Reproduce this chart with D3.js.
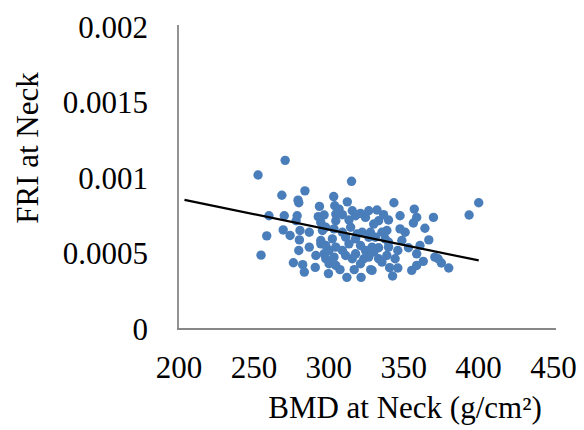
<!DOCTYPE html>
<html><head><meta charset="utf-8">
<script src="https://cdn.jsdelivr.net/npm/d3@7"></script>
<style>body{margin:0;background:#fff}svg{display:block}</style>
</head><body>
<svg id="c" width="584" height="430"></svg>
<script>
// BMD at Neck (g/cm²)
const bmd = [271.2,253.1,315.5,284.4,269.0,303.6,279.8,280.3,312.7,343.8,400.4,294.1,304.3,357.4,305.0,309.4,316.0,321.5,327.0,332.5,
336.9,347.9,394.0,260.4,270.6,279.2,293.3,297.2,370.2,359.0,295.0,313.8,333.6,340.2,356.8,278.5,269.9,281.1,287.3,296.1,
303.8,314.9,322.6,335.8,339.1,347.9,351.3,364.5,258.9,274.5,280.7,295.0,302.7,311.6,318.2,327.0,331.4,338.0,349.1,367.1,
287.3,298.3,305.0,313.8,321.5,329.2,333.6,340.2,353.5,361.2,346.4,280.3,255.1,291.7,297.2,303.8,311.6,318.2,327.0,333.6,
339.1,344.6,359.0,371.1,276.7,282.9,300.5,321.5,335.8,363.4,373.3,375.5,291.3,307.8,317.3,328.3,340.9,346.4,355.7,380.4,
359.0,284.0,300.1,329.2,312.4,321.9,342.9,307.2,318.2,324.8,298.3,309.4,319.3,328.1,300.5,309.4,324.8,330.3,295.0,316.0,
323.7,298.3,305.0,340.2,330.3,305.0];
// FRI at Neck (x 1e-4)
const fri = [11.17,10.20,9.78,9.15,8.86,8.77,8.53,8.36,8.42,8.36,8.36,8.12,8.16,7.94,7.61,7.57,7.83,7.66,7.83,7.88,
7.57,7.50,7.55,7.50,7.50,7.50,7.44,7.55,7.39,7.39,7.06,7.22,7.17,7.22,7.02,7.17,6.56,6.52,6.41,6.52,
6.63,6.74,6.41,6.41,6.52,6.63,6.41,6.67,6.17,6.19,5.90,5.86,5.97,6.08,5.97,6.08,6.08,5.97,5.86,5.90,
5.42,5.53,5.42,5.64,5.53,5.42,5.38,5.42,5.38,5.53,5.20,5.20,4.89,4.87,4.98,4.76,4.87,4.98,4.76,4.65,
4.87,4.65,4.98,4.76,4.39,4.26,4.32,4.32,4.43,4.48,4.65,4.37,4.08,3.93,3.93,3.93,4.06,4.04,3.88,4.04,
4.21,3.77,3.67,3.88,3.42,3.42,3.51,7.94,7.50,7.39,6.74,6.41,6.30,6.41,5.20,5.20,5.20,5.09,5.64,4.65,
4.65,4.65,4.21,5.75,6.95,7.17];
const trendX = [204, 400.4];
const trendY = [0.000855, 0.000454];
const xTicks = [200,250,300,350,400,450];
const yTicks = [0,0.0005,0.001,0.0015,0.002];
const yTickLabels = ["0","0.0005","0.001","0.0015","0.002"];

const svg = d3.select("#c");
const x = d3.scaleLinear().domain([200,450]).range([178.5,553]);
const y = d3.scaleLinear().domain([0,0.002]).range([329,27]);
const font = "'Liberation Serif','Times New Roman',serif";

// axes lines
svg.append("line").attr("x1",178).attr("x2",178).attr("y1",25).attr("y2",329.5)
  .attr("stroke","#878787").attr("stroke-width",1.8);
svg.append("line").attr("x1",177).attr("x2",556).attr("y1",329).attr("y2",329)
  .attr("stroke","#878787").attr("stroke-width",1.8);

// tick labels via axes (no tick lines)
const xa = d3.axisBottom(x).tickValues(xTicks).tickSize(0).tickPadding(0).tickFormat(d3.format("d"));
const gx = svg.append("g").attr("transform","translate(0,329)").call(xa);
gx.select(".domain").remove();
gx.selectAll("text").attr("font-family",font).attr("font-size",31).attr("fill","#000")
  .attr("dy",null).attr("y",49);

const ya = d3.axisLeft(y).tickValues(yTicks).tickSize(0).tickPadding(0)
  .tickFormat((d,i)=>yTickLabels[i]);
const gy = svg.append("g").attr("transform","translate(148,0)").call(ya);
gy.select(".domain").remove();
gy.selectAll("text").attr("font-family",font).attr("font-size",31).attr("fill","#000")
  .attr("x",0).attr("dy","0.33em");

// points
const pts = bmd.map((v,i)=>({x:v,y:fri[i]*1e-4}));
svg.append("g").selectAll("circle").data(pts).join("circle")
  .attr("cx",d=>x(d.x)).attr("cy",d=>y(d.y)).attr("r",4.7).attr("fill","#4a7ebb");

// trend line
svg.append("path").datum(trendX.map((v,i)=>[v,trendY[i]]))
  .attr("d",d3.line().x(d=>x(d[0])).y(d=>y(d[1])))
  .attr("stroke","#000").attr("stroke-width",2.2).attr("fill","none");

// titles
svg.append("text").attr("x",405).attr("y",418).attr("text-anchor","middle")
  .attr("font-family",font).attr("font-size",31).text("BMD at Neck (g/cm²)");
svg.append("text").attr("transform","translate(38,148) rotate(-90)").attr("text-anchor","middle")
  .attr("font-family",font).attr("font-size",31).text("FRI at Neck");
</script>
</body></html>
